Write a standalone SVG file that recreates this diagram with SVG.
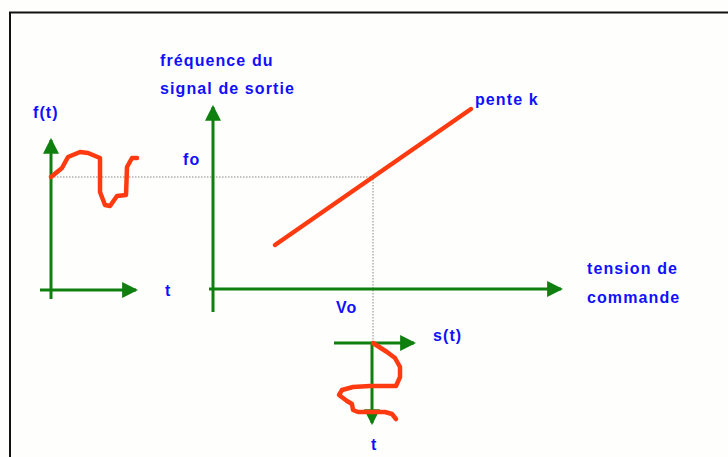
<svg xmlns="http://www.w3.org/2000/svg" width="728" height="457" viewBox="0 0 728 457">
<style>
.axis{stroke:#0f800f;stroke-width:3;fill:none;marker-end:url(#ah)}
.red{stroke:#ff3a10;stroke-width:4.5;fill:none;stroke-linejoin:round;stroke-linecap:round}
.dot{stroke:#888;stroke-width:1;stroke-dasharray:1.5 1.5;fill:none}
.lbl{font-family:"Liberation Sans",Arial,sans-serif;font-weight:bold;font-size:16px;fill:#1010ff;letter-spacing:1.1px}
</style>
<defs>
<marker id="ah" markerUnits="userSpaceOnUse" markerWidth="16" markerHeight="16" viewBox="0 0 15 15" refX="13" refY="7.5" orient="auto">
<path d="M0,0 L15,7.5 L0,15 z" fill="#0f800f"/>
</marker>
</defs>
<rect x="0" y="0" width="728" height="457" fill="#fefefc"/>
<rect x="10" y="12.5" width="730" height="460" fill="none" stroke="#111" stroke-width="2"/>
<g id="guides">
<path class="dot" d="M51,177 H373 V343"/>
</g>
<g id="connectors">
<path class="axis" d="M40,290 H136"/>
<path class="axis" d="M51,299 V140"/>
<path class="axis" d="M213,312 V107"/>
<path class="axis" d="M209,289 H561"/>
<path class="axis" d="M334,343 H414"/>
<path class="axis" d="M372,343 V423"/>
</g>
<g id="ft-plot">
<path class="red" d="M51,177 L62,168 L68,157 L80,152 L88,153 L100,158 L100,192 L105,205 L110,206 L117,196 L126,195 L127,167 L132,158 L137,158"/>
<text class="lbl" x="33" y="118" letter-spacing="0.5">f(t)</text>
<text class="lbl" x="165" y="296">t</text>
</g>
<g id="main-plot">
<path class="red" d="M275,245 L471,109" stroke-width="5"/>
<text class="lbl" x="160" y="66">fréquence du</text>
<text class="lbl" x="160" y="94">signal de sortie</text>
<text class="lbl" x="475" y="105">pente k</text>
<text class="lbl" x="183" y="165">fo</text>
<text class="lbl" x="336" y="313">Vo</text>
<text class="lbl" x="587" y="274">tension de</text>
<text class="lbl" x="587" y="303">commande</text>
</g>
<g id="st-plot">
<path class="red" d="M373,343 L387,352 L395,358 L400,367 L400,377 L396,386 L370,386 L353,387 L342,390 L339,395 L347,401 L352,404 L353,410 L358,412 L385,412 L392,414 L396,419"/>
<text class="lbl" x="433" y="341" letter-spacing="0.5">s(t)</text>
<text class="lbl" x="371" y="450">t</text>
</g>
</svg>
